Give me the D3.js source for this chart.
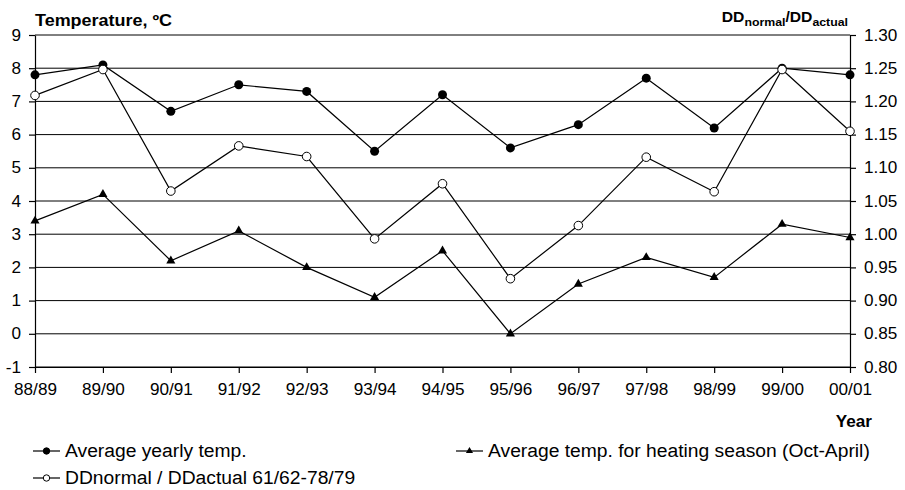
<!DOCTYPE html>
<html>
<head>
<meta charset="utf-8">
<script src="https://cdn.jsdelivr.net/npm/d3@7"></script>
<style>
  html, body { margin: 0; padding: 0; background: #fff; }
  svg { display: block; font-family: "Liberation Sans", Arial, sans-serif; }
</style>
</head>
<body>
<svg id="chart" width="905" height="490"></svg>
<script>
const categories = ["88/89","89/90","90/91","91/92","92/93","93/94","94/95","95/96","96/97","97/98","98/99","99/00","00/01"];
const yearlyTemp = [7.8, 8.1, 6.7, 7.5, 7.3, 5.5, 7.2, 5.6, 6.3, 7.7, 6.2, 8.0, 7.8];
const heatingTemp = [3.4, 4.2, 2.2, 3.1, 2.0, 1.1, 2.5, 0.0, 1.5, 2.3, 1.7, 3.3, 2.9];
const ddRatio = [1.209, 1.248, 1.065, 1.133, 1.117, 0.993, 1.076, 0.933, 1.013, 1.116, 1.064, 1.248, 1.155];
const leftTicks = [-1, 0, 1, 2, 3, 4, 5, 6, 7, 8, 9];
const rightTicks = [0.80, 0.85, 0.90, 0.95, 1.00, 1.05, 1.10, 1.15, 1.20, 1.25, 1.30];
const legendLabels = ["Average yearly temp.", "Average temp. for heating season (Oct-April)", "DDnormal / DDactual 61/62-78/79"];

const svg = d3.select("#chart");
const L = 35, R = 850, T = 35, B = 367;
const SX = 1.07; // horizontal text stretch

function stretch(sel, factor) {
  sel.each(function() {
    const len = this.getComputedTextLength();
    d3.select(this).attr("textLength", len * factor).attr("lengthAdjust", "spacingAndGlyphs");
  });
}

const x = d3.scalePoint().domain(categories).range([L, R]);
const yL = d3.scaleLinear().domain([-1, 9]).range([B, T]);
const yR = d3.scaleLinear().domain([0.80, 1.30]).range([B, T]);

// gridlines
svg.append("g").selectAll("line").data(leftTicks).join("line")
  .attr("x1", L).attr("x2", R)
  .attr("y1", d => yL(d)).attr("y2", d => yL(d))
  .attr("stroke", "#000").attr("stroke-width", 1);

// axes
const fs = 16;
const gL = svg.append("g").attr("transform", `translate(${L},0)`)
  .call(d3.axisLeft(yL).tickValues(leftTicks).tickSize(6).tickSizeOuter(0).tickPadding(8).tickFormat(d => String(d)));
const gR = svg.append("g").attr("transform", `translate(${R},0)`)
  .call(d3.axisRight(yR).tickValues(rightTicks).tickSize(6).tickSizeOuter(0).tickPadding(8).tickFormat(d3.format(".2f")));
const gB = svg.append("g").attr("transform", `translate(0,${B})`)
  .call(d3.axisBottom(x).tickSize(6).tickSizeOuter(0).tickPadding(11));
[gL, gR, gB].forEach(g => {
  g.selectAll("text").attr("font-size", fs).attr("fill", "#000").attr("font-family", "Liberation Sans, Arial, sans-serif");
  g.selectAll("line,path").attr("stroke", "#000").attr("stroke-width", 1.2);
  stretch(g.selectAll("text"), SX);
});

// series
const series = [
  {name: legendLabels[0], values: yearlyTemp, scale: yL, marker: "filled"},
  {name: legendLabels[1], values: heatingTemp, scale: yL, marker: "triangle"},
  {name: legendLabels[2], values: ddRatio, scale: yR, marker: "open"}
];

function drawMarker(sel, type) {
  if (type === "filled") {
    sel.append("circle").attr("r", 4.5).attr("fill", "#000");
  } else if (type === "open") {
    sel.append("circle").attr("r", 4.3).attr("fill", "#fff").attr("stroke", "#000").attr("stroke-width", 1);
  } else {
    sel.append("path").attr("d", d3.symbol(d3.symbolTriangle, 36)()).attr("fill", "#000");
  }
}

series.forEach(s => {
  const line = d3.line().x((d, i) => x(categories[i])).y(d => s.scale(d));
  svg.append("path").datum(s.values).attr("d", line)
    .attr("fill", "none").attr("stroke", "#000").attr("stroke-width", 1.2);
});
series.forEach(s => {
  svg.append("g").selectAll("g").data(s.values).join("g")
    .attr("transform", (d, i) => `translate(${x(categories[i])},${s.scale(d)})`)
    .each(function() { drawMarker(d3.select(this), s.marker); });
});

// titles
svg.append("text").attr("x", L).attr("y", 26).attr("font-size", 16).attr("font-weight", "bold")
  .attr("textLength", 137).attr("lengthAdjust", "spacingAndGlyphs")
  .text("Temperature, ºC");
const rtg = svg.append("g").attr("transform", "translate(848,22) scale(1.12,1)");
const rt = rtg.append("text").attr("x", 0).attr("y", 0).attr("text-anchor", "end")
  .attr("font-size", 14).attr("font-weight", "bold");
rt.append("tspan").text("DD");
rt.append("tspan").attr("font-size", 11).attr("dy", 4).text("normal");
rt.append("tspan").attr("dy", -4).text("/DD");
rt.append("tspan").attr("font-size", 11).attr("dy", 4).text("actual");

const yr = svg.append("text").attr("x", 872).attr("y", 427).attr("text-anchor", "end")
  .attr("font-size", 16).attr("font-weight", "bold").text("Year");
stretch(yr, SX);

// legend
const legendPos = [{x: 33, y: 451}, {x: 456, y: 451}, {x: 33, y: 478}];
const lg = svg.append("g").selectAll("g").data(series).join("g")
  .attr("transform", (d, i) => `translate(${legendPos[i].x},${legendPos[i].y})`);
lg.append("line").attr("x1", 0).attr("x2", 27).attr("stroke", "#000").attr("stroke-width", 1.2);
lg.each(function(d) {
  const m = d3.select(this).append("g").attr("transform", "translate(13.5,0)");
  if (d.marker === "triangle") m.append("path").attr("d", d3.symbol(d3.symbolTriangle, 22)()).attr("fill", "#000");
  else m.append("circle").attr("r", 3.2).attr("fill", d.marker === "filled" ? "#000" : "#fff").attr("stroke", "#000");
});
const lt = lg.append("text").attr("x", 32).attr("y", 0).attr("dy", "0.36em").attr("font-size", 18).text(d => d.name);
stretch(lt, SX);
</script>
</body>
</html>
